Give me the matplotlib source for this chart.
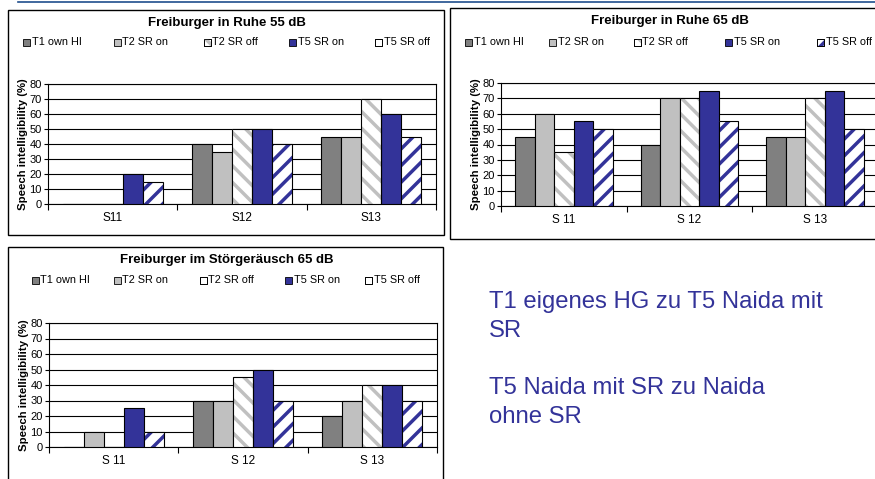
import matplotlib
matplotlib.use("Agg")
import matplotlib.pyplot as plt
import numpy as np
from matplotlib.patches import Rectangle

plt.rcParams["font.family"] = ["Liberation Sans", "DejaVu Sans"]
plt.rcParams["hatch.linewidth"] = 2.5

# %% data
series = ["T1 own HI", "T2 SR on", "T2 SR off", "T5 SR on", "T5 SR off"]

cats_55 = ["S11", "S12", "S13"]
ruhe_55 = [
    [0, 40, 45],    # T1 own HI
    [0, 35, 45],    # T2 SR on
    [0, 50, 70],    # T2 SR off
    [20, 50, 60],   # T5 SR on
    [15, 40, 45],   # T5 SR off
]

cats_65 = ["S 11", "S 12", "S 13"]
ruhe_65 = [
    [45, 40, 45],
    [60, 70, 45],
    [35, 70, 70],
    [55, 75, 75],
    [50, 55, 50],
]

cats_noise = ["S 11", "S 12", "S 13"]
noise_65 = [
    [0, 30, 20],
    [10, 30, 30],
    [0, 45, 40],
    [25, 50, 40],
    [10, 30, 30],
]

yticks = [0, 10, 20, 30, 40, 50, 60, 70, 80]

# %% styles
fills = ["#808080", "#c0c0c0", "white", "#333399", "white"]
hatches = [None, None, "\\\\", None, "//"]
hatch_cols = [None, None, "#c0c0c0", None, "#333399"]

W, H = 875, 479
fig = plt.figure(figsize=(W / 100, H / 100), dpi=100)

# overlay in pixel coords for frames, titles, legends
ov = fig.add_axes([0, 0, 1, 1], zorder=-1)
ov.set_xlim(0, W)
ov.set_ylim(H, 0)
ov.axis("off")


def px_axes(left, top, right, bottom):
    return fig.add_axes([left / W, (H - bottom) / H, (right - left) / W, (bottom - top) / H])


def bar_panel(ax, cats, data):
    x = np.arange(len(cats))
    bw = 0.155
    for i, vals in enumerate(data):
        pos = x + (i - 2) * bw
        if hatches[i]:
            ax.bar(pos, vals, bw, color="white", edgecolor=hatch_cols[i],
                   hatch=hatches[i], linewidth=0, zorder=3)
            ax.bar(pos, vals, bw, color="none", edgecolor="black", linewidth=0.8, zorder=4)
        else:
            ax.bar(pos, vals, bw, color=fills[i], edgecolor="black", linewidth=0.8, zorder=3)
    ax.set_xlim(-0.5, len(cats) - 0.5)
    ax.set_ylim(0, 80)
    ax.set_yticks(yticks)
    ax.tick_params(axis="y", labelsize=8, length=3, width=0.8, pad=1.5)
    ax.set_xticks(np.arange(len(cats) + 1) - 0.5)
    ax.set_xticklabels([])
    ax.tick_params(axis="x", length=4, width=0.8)
    ax.set_xticks(x, minor=True)
    ax.set_xticklabels(cats, minor=True, fontsize=8.5)
    ax.tick_params(axis="x", which="minor", length=0, pad=6)
    ax.grid(axis="y", color="black", linewidth=0.8, zorder=0)
    for s in ax.spines.values():
        s.set_linewidth(0.8)
    ax.set_ylabel("Speech intelligibility (%)", fontsize=8.2, fontweight="bold", labelpad=1)


def legend_row(xs, y):
    for i, name in enumerate(series):
        ov.add_patch(Rectangle((xs[i] - 3.5, y - 3.5), 7, 7,
                               facecolor=fills[i] if not hatches[i] else "white",
                               edgecolor="black", linewidth=0.6))
        if hatches[i]:
            ov.add_patch(Rectangle((xs[i] - 3.5, y - 3.5), 7, 7, facecolor="none",
                                   edgecolor=hatch_cols[i], linewidth=0, hatch=hatches[i][0]))
            ov.add_patch(Rectangle((xs[i] - 3.5, y - 3.5), 7, 7, facecolor="none",
                                   edgecolor="black", linewidth=0.6))
        ov.text(xs[i] + 5.5, y, name, fontsize=7.8, va="center", ha="left")


# frames
ov.plot([18, W], [2, 2], color="#1f4e8c", linewidth=1.2)
ov.add_patch(Rectangle((8, 10), 436, 225, facecolor="white", edgecolor="black", linewidth=1))
ov.add_patch(Rectangle((450, 8), 440, 231, facecolor="white", edgecolor="black", linewidth=1))
ov.add_patch(Rectangle((8, 247), 435, 240, facecolor="white", edgecolor="black", linewidth=1))

# panel 1
ax1 = px_axes(48, 84, 436, 204)
bar_panel(ax1, cats_55, ruhe_55)
ov.text(227, 23, "Freiburger in Ruhe 55 dB", fontsize=9.5, fontweight="bold", ha="center", va="center")
legend_row([26, 117, 207, 292, 378], 42)

# panel 2
ax2 = px_axes(501, 83, 878, 206)
bar_panel(ax2, cats_65, ruhe_65)
ov.text(670, 21, "Freiburger in Ruhe 65 dB", fontsize=9.5, fontweight="bold", ha="center", va="center")
legend_row([468, 552, 637, 728, 820], 42)

# panel 3
ax3 = px_axes(49, 323, 437, 447)
bar_panel(ax3, cats_noise, noise_65)
ov.text(227, 260, "Freiburger im Störgeräusch 65 dB", fontsize=9.5, fontweight="bold", ha="center", va="center")
legend_row([35, 117, 203, 288, 368], 280)

# side notes
txt_kw = dict(fontsize=17.2, color="#333399", ha="left", va="center")
ov.text(489, 302, "T1 eigenes HG zu T5 Naida mit", **txt_kw)
ov.text(489, 331, "SR", **txt_kw)
ov.text(489, 388, "T5 Naida mit SR zu Naida", **txt_kw)
ov.text(489, 417, "ohne SR", **txt_kw)

fig.savefig("out.png", dpi=100)
